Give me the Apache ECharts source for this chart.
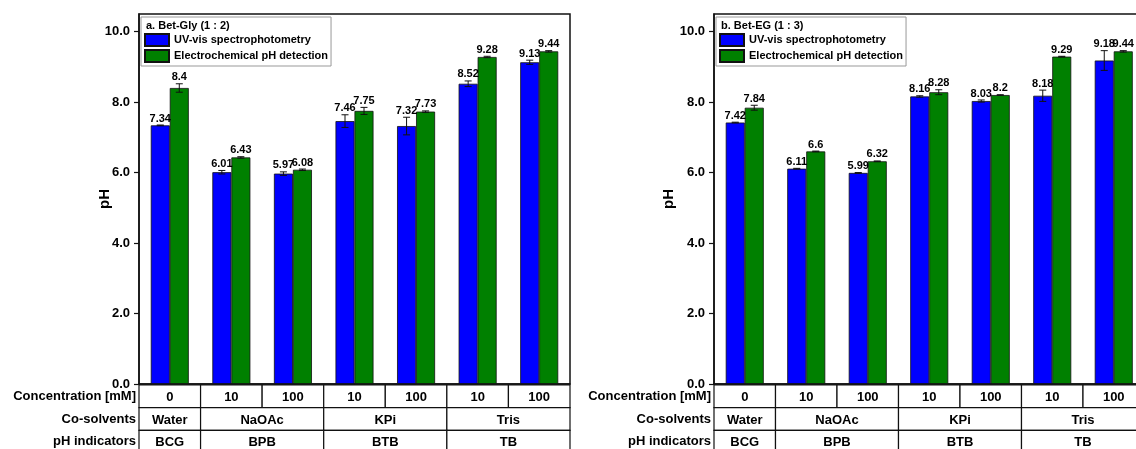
<!DOCTYPE html>
<html>
<head>
<meta charset="utf-8">
<script src="https://cdn.jsdelivr.net/npm/echarts@6/dist/echarts.min.js"></script>
<style>
  html, body { margin: 0; padding: 0; background: #fff; }
  #chart { width: 1136px; height: 449px; }
</style>
</head>
<body>
<div id="chart"></div>
<script>
// Categories and table contents
const categories = ['0', '10', '100', '10', '100', '10', '100'];
const rowNames = ['Concentration [mM]', 'Co-solvents', 'pH indicators'];
const coSolvents = [['Water', 0, 1], ['NaOAc', 1, 3], ['KPi', 3, 5], ['Tris', 5, 7]];
const indicators = [['BCG', 0, 1], ['BPB', 1, 3], ['BTB', 3, 5], ['TB', 5, 7]];
const yTicks = [0, 2, 4, 6, 8, 10];
const seriesNames = ['UV-vis spectrophotometry', 'Electrochemical pH detection'];

// a. Bet-Gly (1 : 2)
const glyUV = [7.34, 6.01, 5.97, 7.46, 7.32, 8.52, 9.13];
const glyUVErr = [0.01, 0.05, 0.05, 0.18, 0.25, 0.08, 0.06];
const glyEC = [8.4, 6.43, 6.08, 7.75, 7.73, 9.28, 9.44];
const glyECErr = [0.12, 0.02, 0.02, 0.1, 0.02, 0.02, 0.02];

// b. Bet-EG (1 : 3)
const egUV = [7.42, 6.11, 5.99, 8.16, 8.03, 8.18, 9.18];
const egUVErr = [0.01, 0.01, 0.01, 0.02, 0.03, 0.16, 0.28];
const egEC = [7.84, 6.6, 6.32, 8.28, 8.2, 9.29, 9.44];
const egECErr = [0.07, 0.01, 0.01, 0.07, 0.01, 0.01, 0.02];

const FONT = '"Liberation Sans", Arial, sans-serif';
const BLUE = '#0000ff';
const GREEN = '#008000';
const BAR_W = 19;

// table cells: [start, end, row] with matching texts
const cellData = [];
const cellText = [];
categories.forEach((c, i) => { cellData.push([i, i + 1, 0]); cellText.push(c); });
coSolvents.forEach(d => { cellData.push([d[1], d[2], 1]); cellText.push(d[0]); });
indicators.forEach(d => { cellData.push([d[1], d[2], 2]); cellText.push(d[0]); });

function renderCell(params, api) {
  const s = api.value(0), e = api.value(1), r = api.value(2);
  const p0 = api.coord([s, r]);
  const p1 = api.coord([e, r]);
  const h = api.size([0, 1])[1];
  return {
    type: 'group',
    children: [
      { type: 'rect', shape: { x: p0[0], y: p0[1] - h / 2, width: p1[0] - p0[0], height: h },
        style: { fill: '#fff', stroke: '#111', lineWidth: 1.2 } },
      { type: 'text', style: { text: cellText[params.dataIndex], x: (p0[0] + p1[0]) / 2, y: p0[1] + 1,
        align: 'center', verticalAlign: 'middle', font: 'bold 13px ' + FONT, fill: '#000' } }
    ]
  };
}

function errorRenderer(offset) {
  return function (params, api) {
    const i = api.value(0), v = api.value(1), err = api.value(2);
    const x = api.coord([i, v])[0] + offset;
    const top = api.coord([i, v + err])[1];
    const bot = api.coord([i, v - err])[1];
    const cap = 3.5;
    const ls = { stroke: '#111', lineWidth: 1 };
    return {
      type: 'group',
      children: [
        { type: 'line', shape: { x1: x, y1: top, x2: x, y2: bot }, style: ls },
        { type: 'line', shape: { x1: x - cap, y1: top, x2: x + cap, y2: top }, style: ls },
        { type: 'line', shape: { x1: x - cap, y1: bot, x2: x + cap, y2: bot }, style: ls },
        { type: 'text', style: { text: String(v), x: x, y: top - 1, align: 'center', verticalAlign: 'bottom',
          font: 'bold 11px ' + FONT, fill: '#000' } }
      ]
    };
  };
}

const option = {
  animation: false,
  backgroundColor: '#fff',
  title: [], legend: [], grid: [], xAxis: [], yAxis: [], series: []
};

function addPanel(p, left, width, nameGap, label, uv, uvErr, ec, ecErr) {
  const g = p * 2;
  option.grid.push({ left: left, top: 14, width: width, height: 370, show: true,
    outerBoundsMode: 'none', borderColor: '#111', borderWidth: 1.5, backgroundColor: 'transparent' });
  option.grid.push({ left: left, top: 385, width: width, height: 68, outerBoundsMode: 'none' });

  option.xAxis.push({ gridIndex: g, type: 'category', data: categories,
    axisLabel: { show: false }, axisTick: { show: false },
    axisLine: { lineStyle: { color: '#111', width: 1.5 } } });
  option.xAxis.push({ gridIndex: g + 1, type: 'value', min: 0, max: 7, show: false });

  option.yAxis.push({ gridIndex: g, type: 'value', min: 0, max: 10.5,
    name: 'pH', nameLocation: 'middle', nameGap: nameGap, nameMoveOverlap: false,
    nameTextStyle: { fontSize: 15, fontWeight: 'bold', color: '#000', fontFamily: FONT },
    axisLine: { show: true, lineStyle: { color: '#111', width: 1.5 } },
    axisTick: { show: true, length: 5, customValues: yTicks, lineStyle: { color: '#111', width: 1.2 } },
    axisLabel: { customValues: yTicks, formatter: v => v.toFixed(1), fontSize: 13, fontWeight: 'bold',
      color: '#000', fontFamily: FONT, margin: 9 },
    splitLine: { show: false } });
  option.yAxis.push({ gridIndex: g + 1, type: 'category', data: rowNames, inverse: true,
    axisLine: { show: false }, axisTick: { show: false },
    axisLabel: { fontSize: 13, fontWeight: 'bold', color: '#000', fontFamily: FONT, margin: 3,
      padding: [2, 0, 0, 0] } });

  option.series.push({ type: 'bar', name: seriesNames[0], xAxisIndex: g, yAxisIndex: g, data: uv,
    barWidth: BAR_W, barGap: '0%', itemStyle: { color: BLUE, borderColor: '#111', borderWidth: 0.8 } });
  option.series.push({ type: 'bar', name: seriesNames[1], xAxisIndex: g, yAxisIndex: g, data: ec,
    barWidth: BAR_W, barGap: '0%', itemStyle: { color: GREEN, borderColor: '#111', borderWidth: 0.8 } });
  option.series.push({ type: 'custom', xAxisIndex: g, yAxisIndex: g, z: 5, clip: false,
    renderItem: errorRenderer(-BAR_W / 2), data: uv.map((v, i) => [i, v, uvErr[i]]) });
  option.series.push({ type: 'custom', xAxisIndex: g, yAxisIndex: g, z: 5, clip: false,
    renderItem: errorRenderer(BAR_W / 2), data: ec.map((v, i) => [i, v, ecErr[i]]) });
  option.series.push({ type: 'custom', xAxisIndex: g + 1, yAxisIndex: g + 1, clip: false,
    renderItem: renderCell, data: cellData });

  option.legend.push({ left: left + 2, top: 17, orient: 'vertical', icon: 'rect',
    itemWidth: 24, itemHeight: 12, itemGap: 2, padding: [16, 3, 3, 3],
    borderColor: '#999', borderWidth: 1, backgroundColor: '#fff', selectedMode: false,
    textStyle: { fontSize: 11, fontWeight: 'bold', color: '#000', fontFamily: FONT },
    data: seriesNames });
  option.title.push({ text: label, left: left + 7, top: 20, padding: 0, z: 10,
    textStyle: { fontSize: 11, fontWeight: 'bold', color: '#000', fontFamily: FONT } });
}

addPanel(0, 139, 431, 27, 'a. Bet-Gly (1 : 2)', glyUV, glyUVErr, glyEC, glyECErr);
addPanel(1, 714, 430.5, 38, 'b. Bet-EG (1 : 3)', egUV, egUVErr, egEC, egECErr);

const chart = echarts.init(document.getElementById('chart'), null, { renderer: 'canvas' });
chart.setOption(option);
</script>
</body>
</html>
